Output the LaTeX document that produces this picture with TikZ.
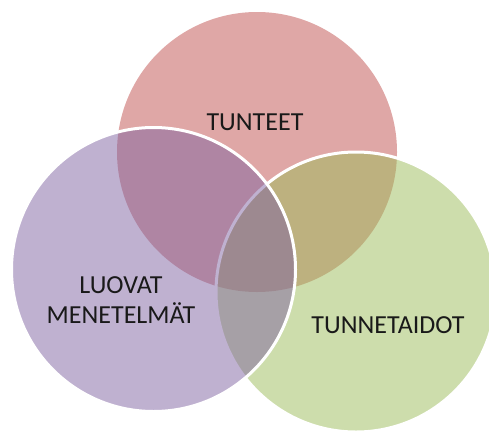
\documentclass[tikz,border=0pt]{standalone}
\usepackage{fontspec}
\setmainfont{Carlito}
\definecolor{offred}{HTML}{C0504D}
\definecolor{offgreen}{HTML}{9BBB59}
\definecolor{offpurple}{HTML}{8064A2}
\begin{document}
\begin{tikzpicture}[x=1pt,y=-1pt,
  venn/.style={circle,inner sep=0pt,outer sep=0pt,fill opacity=0.5,draw opacity=1,line width=3pt},
  lbl/.style={font=\fontsize{26}{30}\selectfont,text=black!90,align=center,inner sep=0pt}]
\useasboundingbox (0,0) rectangle (489,434);
\node[venn,fill=offred,minimum size=280pt] (red) at (257,152) {};
\node[venn,fill=offgreen,draw=white,minimum size=280pt] (green) at (356,292) {};
\node[venn,fill=offpurple,draw=white,minimum size=284pt] (purple) at (153.5,269.5) {};
\node[lbl] (tunteet) at (255,122) {TUNTEET};
\node[lbl] (luovat) at (121,300) {LUOVAT\\MENETELMÄT};
\node[lbl] (taidot) at (388,325) {TUNNETAIDOT};
\end{tikzpicture}
\end{document}
